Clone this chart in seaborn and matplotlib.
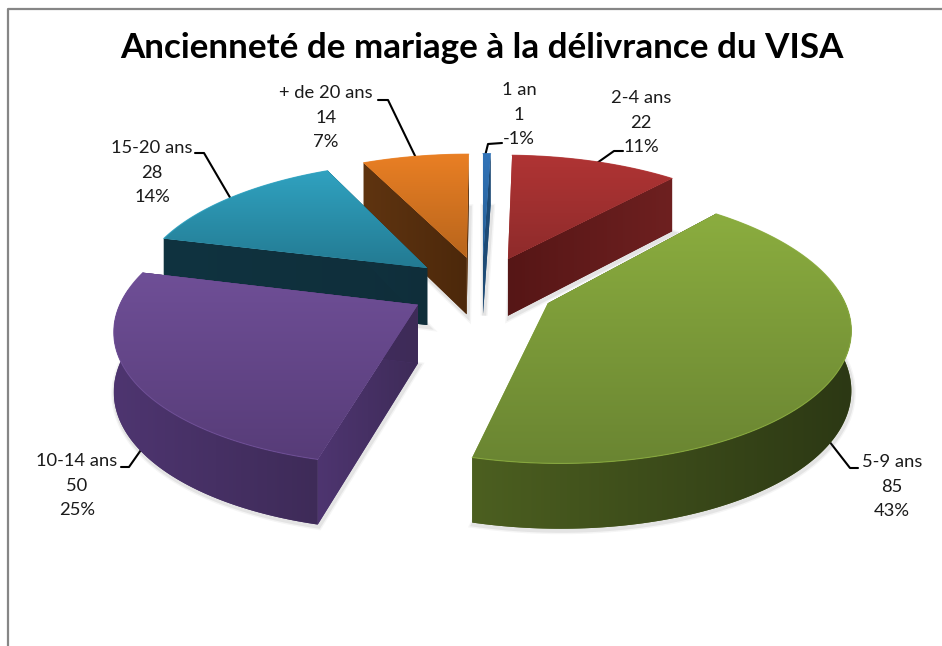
import numpy as np
import matplotlib
matplotlib.use("Agg")
import matplotlib.pyplot as plt
from matplotlib.patches import Polygon
import seaborn as sns

# ---- data ----
categories = ["1 an", "2-4 ans", "5-9 ans", "10-14 ans", "15-20 ans", "+ de 20 ans"]
values = [1, 22, 85, 50, 28, 14]
percent_labels = ["-1%", "11%", "43%", "25%", "14%", "7%"]
title = "Ancienneté de mariage à la délivrance du VISA"

# ---- style ----
top_light = ["#3274b9", "#b03434", "#8bad3f", "#6f4f97", "#30a2c0", "#e97f24"]
top_dark = ["#235c92", "#8e2b2b", "#6a8532", "#573c78", "#237a92", "#b8651c"]
side_left = ["#1d4a75", "#561616", "#4c5f20", "#4e3570", "#103340", "#5f3410"]
side_right = ["#1d4a75", "#6e2020", "#2c3814", "#3e2b58", "#0f2e3a", "#4c280b"]

sns.set_theme(style="white")
plt.rcParams["font.family"] = ["Lato", "DejaVu Sans"]

# projection of the tilted pie on the page
CX, CY, RX, RY, PERSP, THICK, EXPLODE = 482, 288, 292, 129, 0.16, 58, 0.25


def project(x, y, z=0.0):
    w = 1 + PERSP * y
    return CX + RX * x / w, CY - RY * y / w + z * THICK / (1 + 0.1 * y)


fig, ax = plt.subplots(figsize=(9.42, 6.46), dpi=100)
ax.set_position([0, 0, 1, 1])
ax.axis("off")

shares = np.array(values, dtype=float) / sum(values)
edges = np.concatenate([[0], np.cumsum(shares)]) * 2 * np.pi


def rgb(c):
    return np.array(matplotlib.colors.to_rgb(c))


def gradient_fill(points, c1, c2, zorder, vertical=False):
    """Fill a polygon with a linear gradient between two colours."""
    pts = np.array(points)
    poly = Polygon(pts, closed=True, fc=c1, ec="none", zorder=zorder)
    ax.add_patch(poly)
    t = np.linspace(0, 1, 256)[:, None, None]
    img = rgb(c1)[None, None, :] * (1 - t) + rgb(c2)[None, None, :] * t
    if not vertical:
        img = img.transpose(1, 0, 2)
    im = ax.imshow(img, extent=[pts[:, 0].min(), pts[:, 0].max(), pts[:, 1].max(), pts[:, 1].min()],
                   aspect="auto", zorder=zorder, interpolation="bilinear")
    im.set_clip_path(poly)


draw_order = [0, 1, 5, 4, 3, 2]
for i in draw_order:
    a, b = edges[i], edges[i + 1]
    mid = (a + b) / 2
    ox, oy = EXPLODE * np.sin(mid), EXPLODE * np.cos(mid)
    th = np.linspace(a, b, max(3, int((b - a) * 60)))
    tip = project(ox, oy)
    tipb = project(ox, oy, 1)
    rim = [project(ox + np.sin(t), oy + np.cos(t)) for t in th]
    rimb = [project(ox + np.sin(t), oy + np.cos(t), 1) for t in th]
    top = np.array([tip] + rim)
    zo = 10 + draw_order.index(i) * 3

    # soft shadow along the base
    base = np.array([tipb] + rimb)
    for lw, al in [(5, 0.06), (3, 0.10)]:
        ax.add_patch(Polygon(base + [1, 2], closed=True, fc="none", ec="#555555", lw=lw, alpha=al, zorder=zo))

    # cut faces, only those facing the viewer
    other = rim[len(rim) // 2]
    for edge_pt, edge_ptb in [(rim[0], rimb[0]), (rim[-1], rimb[-1])]:
        d = np.array(edge_pt) - np.array(tip)
        o = np.array(other) - np.array(tip)
        if abs(d[0]) > 1e-6 and o[1] < tip[1] + d[1] * (o[0] / d[0]):
            gradient_fill([tip, edge_pt, edge_ptb, tipb], side_left[i], side_right[i], zo)

    # outer rim, front part only
    front = [k for k in range(len(th)) if np.cos(th[k]) < 0.12]
    if front:
        quad = [rim[k] for k in front] + [rimb[k] for k in front[::-1]]
        gradient_fill(quad, side_left[i], side_right[i], zo + 1)

    # top face with a vertical gradient
    gradient_fill(top, top_light[i], top_dark[i], zo + 2, vertical=True)
    ax.plot(np.array(rim)[:, 0], np.array(rim)[:, 1], color=top_light[i], lw=0.8, alpha=0.8, zorder=zo + 3)

ax.set_xlim(0, 942)
ax.set_ylim(646, 0)

# ---- labels ----
label_pos = {0: (519, 90), 1: (641, 98), 2: (892, 462), 3: (77, 461), 4: (152, 148), 5: (326, 93)}
leaders = {
    0: [(485, 156), (488, 144), (502, 143)],
    1: [(597, 163), (614, 151), (623, 151)],
    2: [(815, 423), (850, 468), (858, 468)],
    3: [(155, 430), (129, 467), (121, 467)],
    4: [(235, 206), (204, 153), (195, 153)],
    5: [(418, 162), (388, 100), (378, 100)],
}
for i, cat in enumerate(categories):
    x, y = label_pos[i]
    for j, s in enumerate([cat, str(values[i]), percent_labels[i]]):
        ax.text(x, y + j * 24.7, s, ha="center", va="center", fontsize=13.2, color="#1a1a1a", zorder=50)
    pts = np.array(leaders[i])
    ax.plot(pts[:, 0], pts[:, 1], color="black", lw=1.5, zorder=5, solid_joinstyle="round")

ax.text(482, 48, title, ha="center", va="center", fontsize=25.2, fontweight="bold", color="black", zorder=50)

# chart frame (left and top borders visible)
ax.plot([8, 8, 942], [646, 9, 9], color="#868686", lw=1.6, zorder=60, clip_on=False)
sns.despine(ax=ax, left=True, bottom=True)

fig.savefig("out.png", dpi=100)
